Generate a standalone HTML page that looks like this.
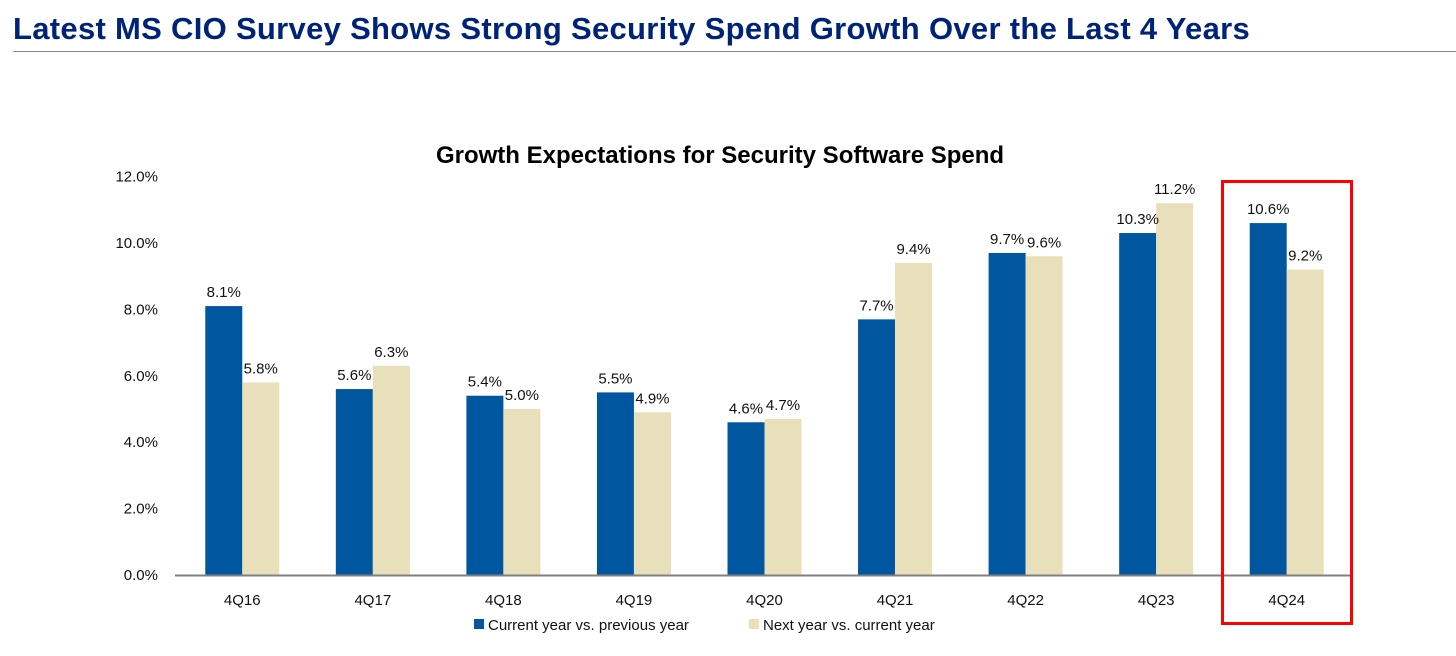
<!DOCTYPE html>
<html><head><meta charset="utf-8"><style>
body{margin:0;background:#fff;width:1456px;height:656px;overflow:hidden;font-family:"Liberation Sans",sans-serif}
#main-title{position:absolute;left:13px;top:11px;font-size:31px;letter-spacing:0.3px;font-weight:bold;color:#00237a;margin:0;white-space:nowrap}
#title-rule{position:absolute;left:13px;top:51px;width:1443px;height:1px;background:#888}
svg{position:absolute;left:0;top:0}
</style></head><body>
<h1 id="main-title">Latest MS CIO Survey Shows Strong Security Spend Growth Over the Last 4 Years</h1>
<div id="title-rule"></div>
<svg id="chart" width="1456" height="656"></svg>
<script>
const categories=["4Q16","4Q17","4Q18","4Q19","4Q20","4Q21","4Q22","4Q23","4Q24"];
const currentVsPrev=[8.1,5.6,5.4,5.5,4.6,7.7,9.7,10.3,10.6];
const nextVsCurrent=[5.8,6.3,5.0,4.9,4.7,9.4,9.6,11.2,9.2];
const yTicks=[0,2,4,6,8,10,12];
const seriesNames=["Current year vs. previous year","Next year vs. current year"];
const NS="http://www.w3.org/2000/svg";
const svg=document.getElementById('chart');
const x0=175,x1=1350,yBase=575,yTop=176.6,yMax=12;
const band=(x1-x0)/categories.length;
const y=v=>yBase-(v/yMax)*(yBase-yTop);
const cx=i=>x0+band*(i+0.5);
const bw=37;
function el(t,a){const e=document.createElementNS(NS,t);for(const k in a)e.setAttribute(k,a[k]);svg.appendChild(e);return e;}
const title=el('text',{x:720,y:163,'text-anchor':'middle','font-size':24,'font-weight':'bold','font-family':'"Liberation Sans Narrow","Liberation Sans",sans-serif','fill':'#000'});


title.textContent='Growth Expectations for Security Software Spend';
yTicks.forEach(t=>{
 const tx=el('text',{x:158,y:y(t)+5,'text-anchor':'end','font-size':15,fill:'#111'});
 
 
 tx.textContent=t.toFixed(1)+'%';
});
categories.forEach((c,i)=>{
 const c0=cx(i)+2;
 const b1=el('rect',{x:c0-bw,y:y(currentVsPrev[i]),width:bw,height:yBase-y(currentVsPrev[i]),fill:'#0057a0'});
 
 
 const b2=el('rect',{x:c0,y:y(nextVsCurrent[i]),width:bw,height:yBase-y(nextVsCurrent[i]),fill:'#e8dfbb'});
 
 
 const l1=el('text',{x:c0-bw/2,y:y(currentVsPrev[i])-9,'text-anchor':'middle','font-size':15,fill:'#111'});
 
 
 l1.textContent=currentVsPrev[i].toFixed(1)+'%';
 const l2=el('text',{x:c0+bw/2,y:y(nextVsCurrent[i])-9,'text-anchor':'middle','font-size':15,fill:'#111'});
 
 
 l2.textContent=nextVsCurrent[i].toFixed(1)+'%';
 const cl=el('text',{x:c0,y:605,'text-anchor':'middle','font-size':15,fill:'#111'});
 
 
 cl.textContent=c;
});
const ax=el('line',{x1:x0,x2:x1,y1:yBase+0.5,y2:yBase+0.5,stroke:'#808080','stroke-width':2});


const hl=el('rect',{x:1222.5,y:181.5,width:129,height:442,fill:'none',stroke:'#ff0000','stroke-width':3});


const lg=[[474,'#0057a0'],[749,'#e8dfbb']];
lg.forEach((l,i)=>{
 const s=el('rect',{x:l[0],y:619,width:10,height:10,fill:l[1]});
 
 
 const t=el('text',{x:l[0]+14,y:630,'font-size':15,fill:'#111'});
 
 
 t.textContent=seriesNames[i];
});
</script>
</body></html>
